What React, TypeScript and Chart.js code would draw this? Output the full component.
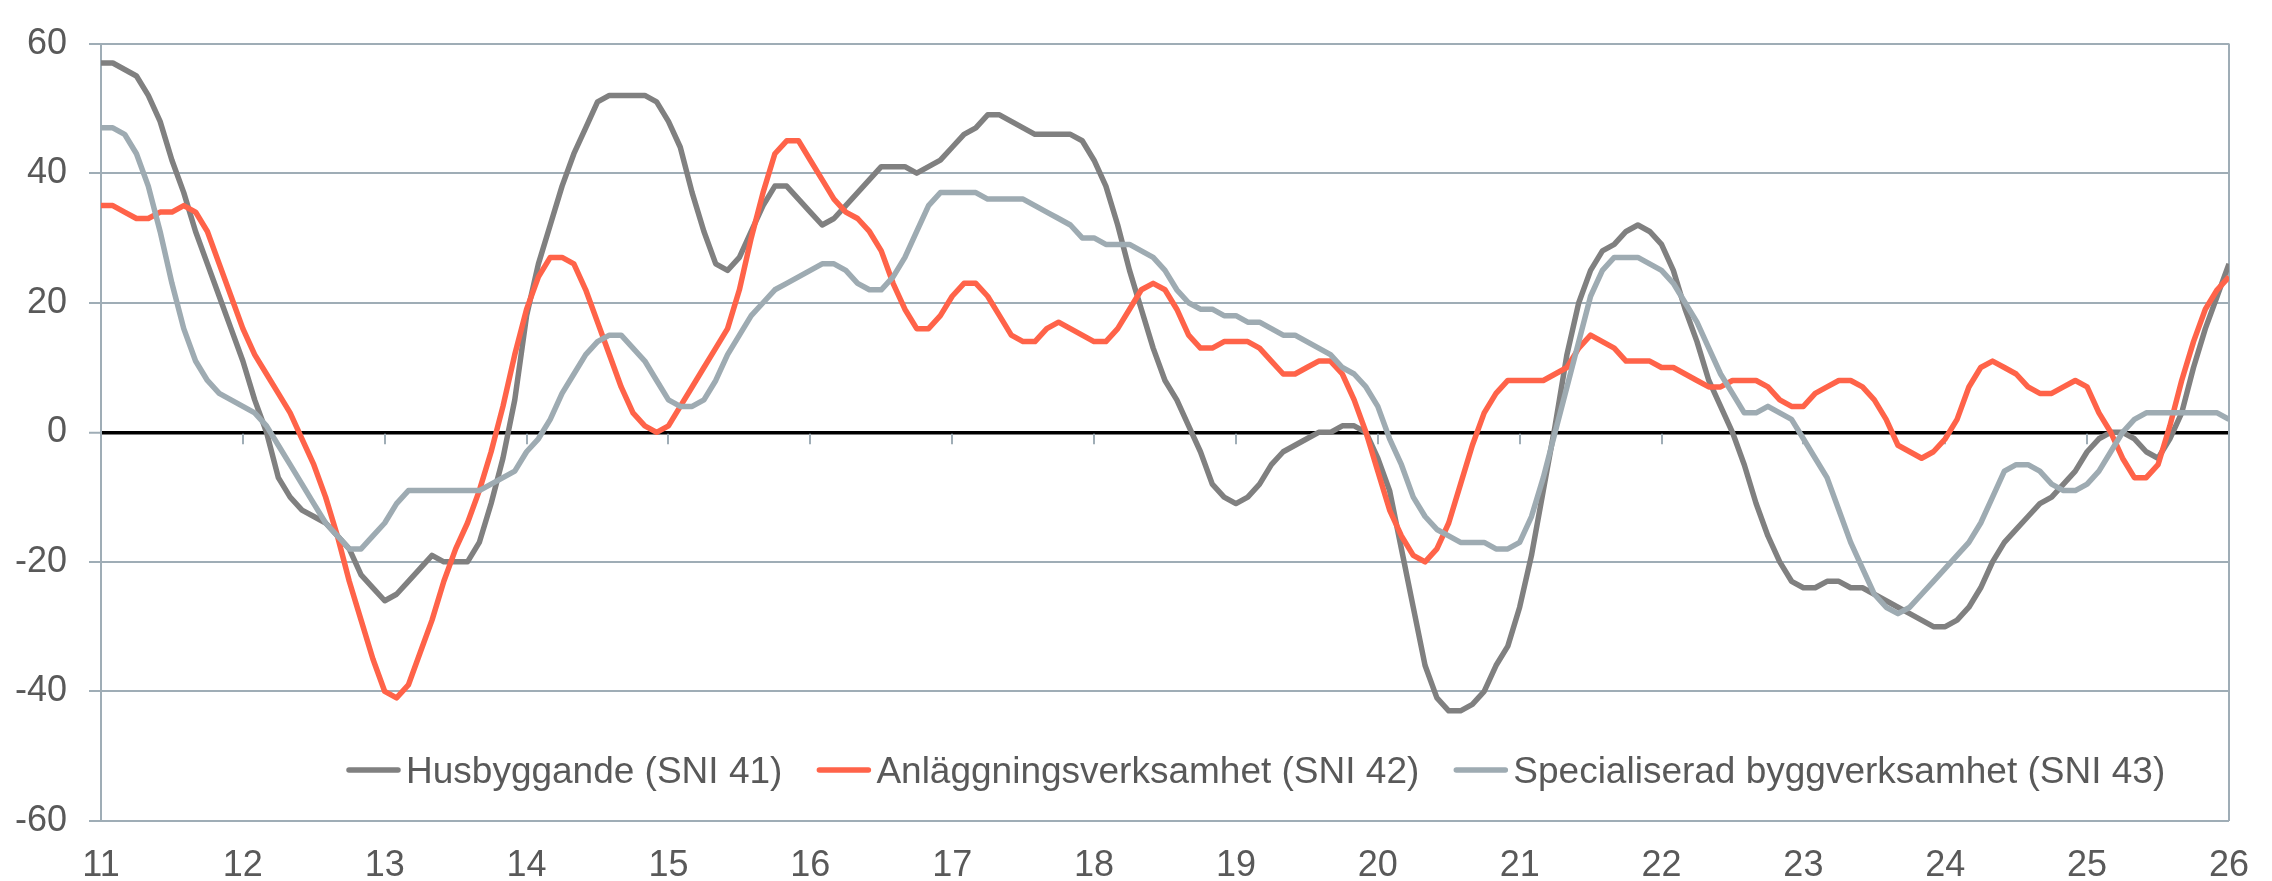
import React, { useEffect, useRef } from "react";
import { Chart, registerables } from "chart.js";

Chart.register(...registerables);

// Monthly observations, Jan 2011 .. Jan 2026
const startYear = 11;
const endYear = 26;

const husbyggande = [
  57, 57, 56, 55, 52, 48, 42, 37, 31, 26, 21, 16,
  11, 5, 0, -7, -10, -12, -13, -14, -16, -18, -22, -24,
  -26, -25, -23, -21, -19, -20, -20, -20, -17, -11, -4, 5,
  18, 26, 32, 38, 43, 47, 51, 52, 52, 52, 52, 51,
  48, 44, 37, 31, 26, 25, 27, 31, 35, 38, 38, 36,
  34, 32, 33, 35, 37, 39, 41, 41, 41, 40, 41, 42,
  44, 46, 47, 49, 49, 48, 47, 46, 46, 46, 46, 45,
  42, 38, 32, 25, 19, 13, 8, 5, 1, -3, -8, -10,
  -11, -10, -8, -5, -3, -2, -1, 0, 0, 1, 1, 0,
  -4, -9, -18, -27, -36, -41, -43, -43, -42, -40, -36, -33,
  -27, -19, -9, 1, 12, 20, 25, 28, 29, 31, 32, 31,
  29, 25, 19, 14, 8, 4, 0, -5, -11, -16, -20, -23,
  -24, -24, -23, -23, -24, -24, -25, -26, -27, -28, -29, -30,
  -30, -29, -27, -24, -20, -17, -15, -13, -11, -10, -8, -6,
  -3, -1, 0, 0, -1, -3, -4, -1, 3, 10, 16, 21,
  26,
];

const anlaggning = [
  35, 35, 34, 33, 33, 34, 34, 35, 34, 31, 26, 21,
  16, 12, 9, 6, 3, -1, -5, -10, -16, -23, -29, -35,
  -40, -41, -39, -34, -29, -23, -18, -14, -9, -3, 4, 12,
  19, 24, 27, 27, 26, 22, 17, 12, 7, 3, 1, 0,
  1, 4, 7, 10, 13, 16, 22, 30, 37, 43, 45, 45,
  42, 39, 36, 34, 33, 31, 28, 23, 19, 16, 16, 18,
  21, 23, 23, 21, 18, 15, 14, 14, 16, 17, 16, 15,
  14, 14, 16, 19, 22, 23, 22, 19, 15, 13, 13, 14,
  14, 14, 13, 11, 9, 9, 10, 11, 11, 9, 5, 0,
  -6, -12, -16, -19, -20, -18, -14, -8, -2, 3, 6, 8,
  8, 8, 8, 9, 10, 13, 15, 14, 13, 11, 11, 11,
  10, 10, 9, 8, 7, 7, 8, 8, 8, 7, 5, 4,
  4, 6, 7, 8, 8, 7, 5, 2, -2, -3, -4, -3,
  -1, 2, 7, 10, 11, 10, 9, 7, 6, 6, 7, 8,
  7, 3, 0, -4, -7, -7, -5, 1, 8, 14, 19, 22,
  24,
];

const specialiserad = [
  47, 47, 46, 43, 38, 31, 23, 16, 11, 8, 6, 5,
  4, 3, 1, -2, -5, -8, -11, -14, -16, -18, -18, -16,
  -14, -11, -9, -9, -9, -9, -9, -9, -9, -8, -7, -6,
  -3, -1, 2, 6, 9, 12, 14, 15, 15, 13, 11, 8,
  5, 4, 4, 5, 8, 12, 15, 18, 20, 22, 23, 24,
  25, 26, 26, 25, 23, 22, 22, 24, 27, 31, 35, 37,
  37, 37, 37, 36, 36, 36, 36, 35, 34, 33, 32, 30,
  30, 29, 29, 29, 28, 27, 25, 22, 20, 19, 19, 18,
  18, 17, 17, 16, 15, 15, 14, 13, 12, 10, 9, 7,
  4, -1, -5, -10, -13, -15, -16, -17, -17, -17, -18, -18,
  -17, -13, -7, 0, 7, 14, 21, 25, 27, 27, 27, 26,
  25, 23, 20, 17, 13, 9, 6, 3, 3, 4, 3, 2,
  -1, -4, -7, -12, -17, -21, -25, -27, -28, -27, -25, -23,
  -21, -19, -17, -14, -10, -6, -5, -5, -6, -8, -9, -9,
  -8, -6, -3, 0, 2, 3, 3, 3, 3, 3, 3, 3,
  2,
];

const seriesLabels = [
  "Husbyggande (SNI 41)",
  "Anläggningsverksamhet (SNI 42)",
  "Specialiserad byggverksamhet (SNI 43)",
];
const seriesColors = ["#808080", "#ff6349", "#9eabb2"];
const yMin = -60;
const yMax = 60;
const yStep = 20;

const gridColor = "#9fadb6";
const textColor = "#595959";
const fontFamily = "'Liberation Sans', Arial, Helvetica, sans-serif";

const toPoints = (arr: number[]) => arr.map((v, i) => ({ x: startYear + i / 12, y: v }));

const framePlugin = {
  id: "frameAndZeroTicks",
  beforeDatasetsDraw(chart: any) {
    const { ctx, chartArea, scales } = chart;
    const xs = scales.x;
    const ys = scales.y;
    ctx.save();
    ctx.strokeStyle = gridColor;
    ctx.lineWidth = 2;
    const y0 = ys.getPixelForValue(0);
    for (const t of xs.ticks) {
      const px = Math.round(xs.getPixelForValue(t.value));
      if (px <= chartArea.left + 1 || px >= chartArea.right - 1) continue;
      ctx.beginPath();
      ctx.moveTo(px, y0 + 1.5);
      ctx.lineTo(px, y0 + 12);
      ctx.stroke();
    }
    ctx.beginPath();
    ctx.moveTo(Math.round(chartArea.right), chartArea.top);
    ctx.lineTo(Math.round(chartArea.right), chartArea.bottom);
    ctx.stroke();
    ctx.restore();
  },
};

const legendPlugin = {
  id: "insideLegend",
  afterDraw(chart: any) {
    const { ctx, chartArea } = chart;
    ctx.save();
    ctx.font = `37px ${fontFamily}`;
    ctx.textBaseline = "alphabetic";
    ctx.textAlign = "left";
    let x = chartArea.left + 245;
    const lineY = chartArea.bottom - 51;
    const textY = chartArea.bottom - 38;
    chart.data.datasets.forEach((ds: any) => {
      ctx.strokeStyle = ds.borderColor;
      ctx.lineWidth = 5.5;
      ctx.lineCap = "round";
      ctx.beginPath();
      ctx.moveTo(x + 3, lineY);
      ctx.lineTo(x + 52, lineY);
      ctx.stroke();
      x += 60;
      ctx.fillStyle = textColor;
      ctx.fillText(ds.label, x, textY);
      x += ctx.measureText(ds.label).width + 34;
    });
    ctx.restore();
  },
};

export default function App() {
  const canvasRef = useRef<HTMLCanvasElement | null>(null);

  useEffect(() => {
    document.body.style.margin = "0";
    const canvas = canvasRef.current;
    if (!canvas) return;
    Chart.defaults.font.family = fontFamily;
    const seriesData = [husbyggande, anlaggning, specialiserad];
    const chart = new Chart(canvas, {
      type: "line",
      data: {
        datasets: seriesData.map((arr, i) => ({
          label: seriesLabels[i],
          data: toPoints(arr),
          borderColor: seriesColors[i],
          backgroundColor: seriesColors[i],
          borderWidth: 5.5,
          pointRadius: 0,
          tension: 0,
          fill: false,
          borderJoinStyle: "round" as const,
          order: 2 - i,
        })),
      },
      options: {
        animation: false,
        responsive: false,
        devicePixelRatio: 1,
        events: [],
        layout: { padding: { top: 28, right: 24, left: 0, bottom: 0 } },
        plugins: {
          legend: { display: false },
          tooltip: { enabled: false },
          title: { display: false },
        },
        scales: {
          x: {
            type: "linear",
            min: startYear,
            max: endYear,
            ticks: {
              stepSize: 1,
              color: textColor,
              font: { size: 36 },
              padding: 23,
              maxRotation: 0,
              autoSkip: false,
              callback: (v: any) => String(v),
            },
            grid: { display: false, drawTicks: false },
            border: { display: false },
            afterFit: (s: any) => {
              s.height = 60;
            },
          },
          y: {
            min: yMin,
            max: yMax,
            ticks: {
              stepSize: yStep,
              color: textColor,
              font: { size: 36 },
              padding: 22,
            },
            grid: {
              color: (c: any) => (c.tick && c.tick.value === 0 ? "#000000" : gridColor),
              lineWidth: (c: any) => (c.tick && c.tick.value === 0 ? 3.5 : 2),
              tickLength: 12,
              tickColor: gridColor,
              tickWidth: 2,
              drawTicks: true,
            },
            border: { display: true, color: gridColor, width: 2 },
            afterFit: (s: any) => {
              s.width = 101;
            },
          },
        },
      },
      plugins: [framePlugin, legendPlugin],
    });
    return () => chart.destroy();
  }, []);

  return (
    <div style={{ width: 2272, height: 881 }}>
      <canvas ref={canvasRef} width={2272} height={881} style={{ display: "block" }} />
    </div>
  );
}
